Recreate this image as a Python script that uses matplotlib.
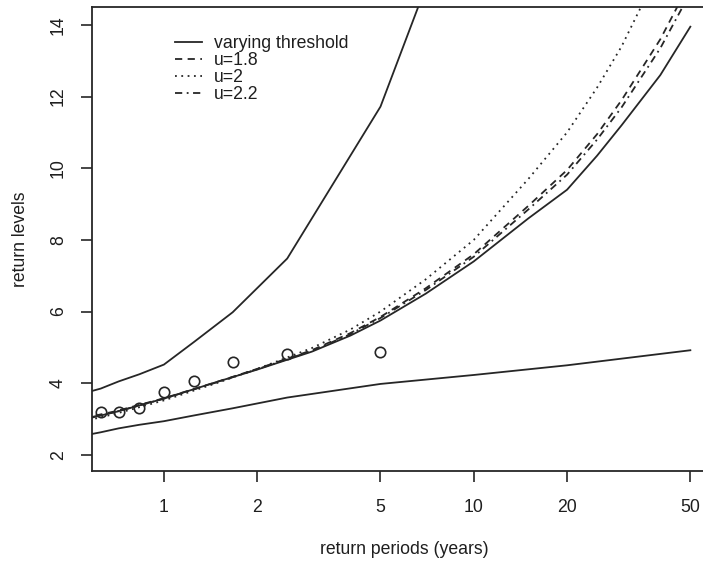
import numpy as np
import matplotlib
matplotlib.use("Agg")
import matplotlib.pyplot as plt

plt.rcParams['font.family'] = ['Liberation Sans', 'DejaVu Sans']

# empirical points (return periods in years, return levels)
obs_T = [5/8, 5/7, 5/6, 5/5, 5/4, 5/3, 5/2, 5/1]
obs_level = [3.21, 3.21, 3.31, 3.75, 4.06, 4.59, 4.82, 4.87]

# confidence band (varying threshold), evaluated at empirical periods + extension
ci_T = [0.5, 5/8, 5/7, 5/6, 1.0, 1.25, 5/3, 2.5, 5.0, 10.0, 20.0, 50.0]
ci_lower = [2.47, 2.63, 2.74, 2.84, 2.94, 3.10, 3.30, 3.60, 3.98, 4.23, 4.50, 4.92]
ci_upper = [3.62, 3.85, 4.05, 4.25, 4.52, 5.15, 5.98, 7.48, 11.72, 18.6, 26.0, 40.0]

# return level curves
curve_T = [0.5, 0.7, 1, 1.5, 2, 3, 4, 5, 7, 10, 15, 20, 25, 30, 40, 50]
varying = [2.90, 3.20, 3.57, 4.05, 4.38, 4.88, 5.33, 5.75, 6.50, 7.40, 8.60, 9.40, 10.35, 11.20, 12.60, 13.95]
u18 = [2.95, 3.22, 3.58, 4.05, 4.40, 4.92, 5.40, 5.85, 6.65, 7.60, 8.95, 9.95, 10.95, 11.90, 13.60, 15.20]
u20 = [2.85, 3.15, 3.52, 4.02, 4.40, 4.98, 5.50, 6.00, 6.90, 8.00, 9.70, 11.00, 12.25, 13.40, 15.60, 17.50]
u22 = [2.93, 3.20, 3.57, 4.04, 4.39, 4.90, 5.37, 5.82, 6.60, 7.53, 8.85, 9.82, 10.80, 11.70, 13.35, 14.90]

xticks = [1, 2, 5, 10, 20, 50]
yticks = [2, 4, 6, 8, 10, 12, 14]

fig = plt.figure(figsize=(7.03, 5.65), dpi=100)
W, H = 703, 565
ax = fig.add_axes([92/W, 1-471/H, (716-92)/W, (471-7)/H])

col = '#262626'
lw = 1.3
ax.plot(curve_T, varying, color=col, lw=lw, ls='-', label='varying threshold')
ax.plot(curve_T, u18, color=col, lw=lw, ls=(0, (4, 3)), label='u=1.8')
ax.plot(curve_T, u20, color=col, lw=lw, ls=(0, (1, 2.5)), label='u=2')
ax.plot(curve_T, u22, color=col, lw=lw, ls=(0, (4, 2.5, 1, 2.5)), label='u=2.2')
ax.plot(ci_T, ci_lower, color=col, lw=lw, ls='-')
ax.plot(ci_T, ci_upper, color=col, lw=lw, ls='-')
ax.plot(obs_T, obs_level, ls='none', marker='o', ms=7.5, mfc='none', mec=col, mew=1.2)

ax.set_xscale('log')
ax.set_xlim(0.586, 60.5)
ax.set_ylim(1.55, 14.5)
ax.set_xticks(xticks)
ax.set_xticklabels([str(t) for t in xticks])
ax.minorticks_off()
ax.set_yticks(yticks)
ax.set_yticklabels([str(t) for t in yticks], rotation=90, va='center')

for s in ax.spines.values():
    s.set_color(col)
    s.set_linewidth(1.3)
ax.tick_params(axis='both', direction='out', length=8, width=1.2, color=col,
               labelsize=12.7, labelcolor='#1e1e1e')
ax.tick_params(axis='x', pad=12.5)
ax.tick_params(axis='y', pad=10)

ax.set_xlabel('return periods (years)', fontsize=12.7, color='#1e1e1e', labelpad=18)
ax.set_ylabel('return levels', fontsize=12.7, color='#1e1e1e', labelpad=15)

leg = ax.legend(loc='upper left', bbox_to_anchor=(175/W, 1-35/H), bbox_transform=fig.transFigure,
                frameon=False, fontsize=12.7, handlelength=1.55, handletextpad=0.68,
                labelspacing=0.0, borderpad=0, borderaxespad=0, labelcolor='#1e1e1e')

fig.savefig('out.png', dpi=100)
